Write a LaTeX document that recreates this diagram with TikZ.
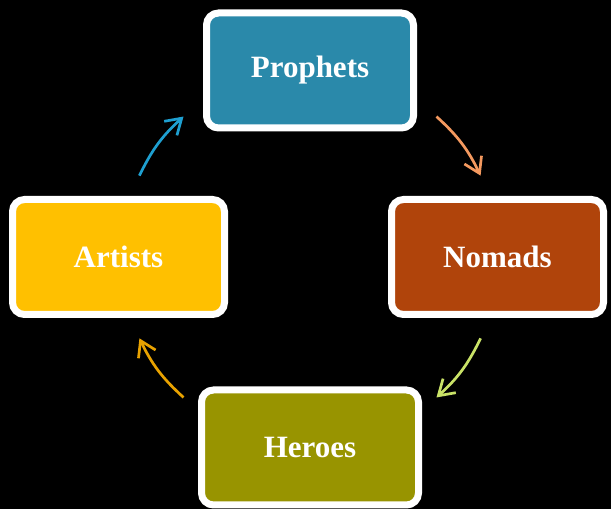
\documentclass[tikz,border=0pt]{standalone}
\usepackage{fontspec}
\setmainfont{Liberation Serif}
\usetikzlibrary{arrows.meta,calc}
\definecolor{cProph}{HTML}{2A89AA}
\definecolor{cNomad}{HTML}{B0440B}
\definecolor{cArtist}{HTML}{FFC000}
\definecolor{cHero}{HTML}{989400}
\definecolor{aOne}{HTML}{F4995F}
\definecolor{aTwo}{HTML}{C9E267}
\definecolor{aThree}{HTML}{E8A200}
\definecolor{aFour}{HTML}{1E9FD0}
\tikzset{
  stagebox/.style={rectangle, rounded corners=12pt, draw=white, line width=7pt,
    minimum width=212pt, minimum height=115pt, text=white,
    font=\fontsize{31}{36}\selectfont\bfseries},
  cyclearrow/.style={line width=2.7pt, -{Straight Barb[length=15pt,width=19pt]}, bend left=11}
}
\begin{document}
\begin{tikzpicture}[x=1pt,y=1pt]
\fill[black] (0,0) rectangle (611,509);
\useasboundingbox (0,0) rectangle (611,509);
\coordinate (c) at (310,252);
\node[stagebox, fill=cProph, minimum width=207pt] (proph) at (310,438.5) {Prophets};
\node[stagebox, fill=cNomad] (nomad) at (497.5,252) {Nomads};
\node[stagebox, fill=cArtist] (artist) at (118.5,252) {Artists};
\node[stagebox, fill=cHero, minimum width=217pt] (hero) at (310,61.5) {Heroes};
\coordinate (a1s) at ($(c)+(48:189)$);
\coordinate (a1e) at ($(c)+(25.5:189)$);
\coordinate (a2s) at ($(c)+(-25.5:189)$);
\coordinate (a2e) at ($(c)+(-48:189)$);
\coordinate (a3s) at ($(c)+(-132:189)$);
\coordinate (a3e) at ($(c)+(-154.5:189)$);
\coordinate (a4s) at ($(c)+(154.5:189)$);
\coordinate (a4e) at ($(c)+(132:189)$);
\draw[cyclearrow, aOne] (a1s) to (a1e);
\draw[cyclearrow, aTwo] (a2s) to (a2e);
\draw[cyclearrow, aThree] (a3s) to (a3e);
\draw[cyclearrow, aFour] (a4s) to (a4e);
\end{tikzpicture}
\end{document}
